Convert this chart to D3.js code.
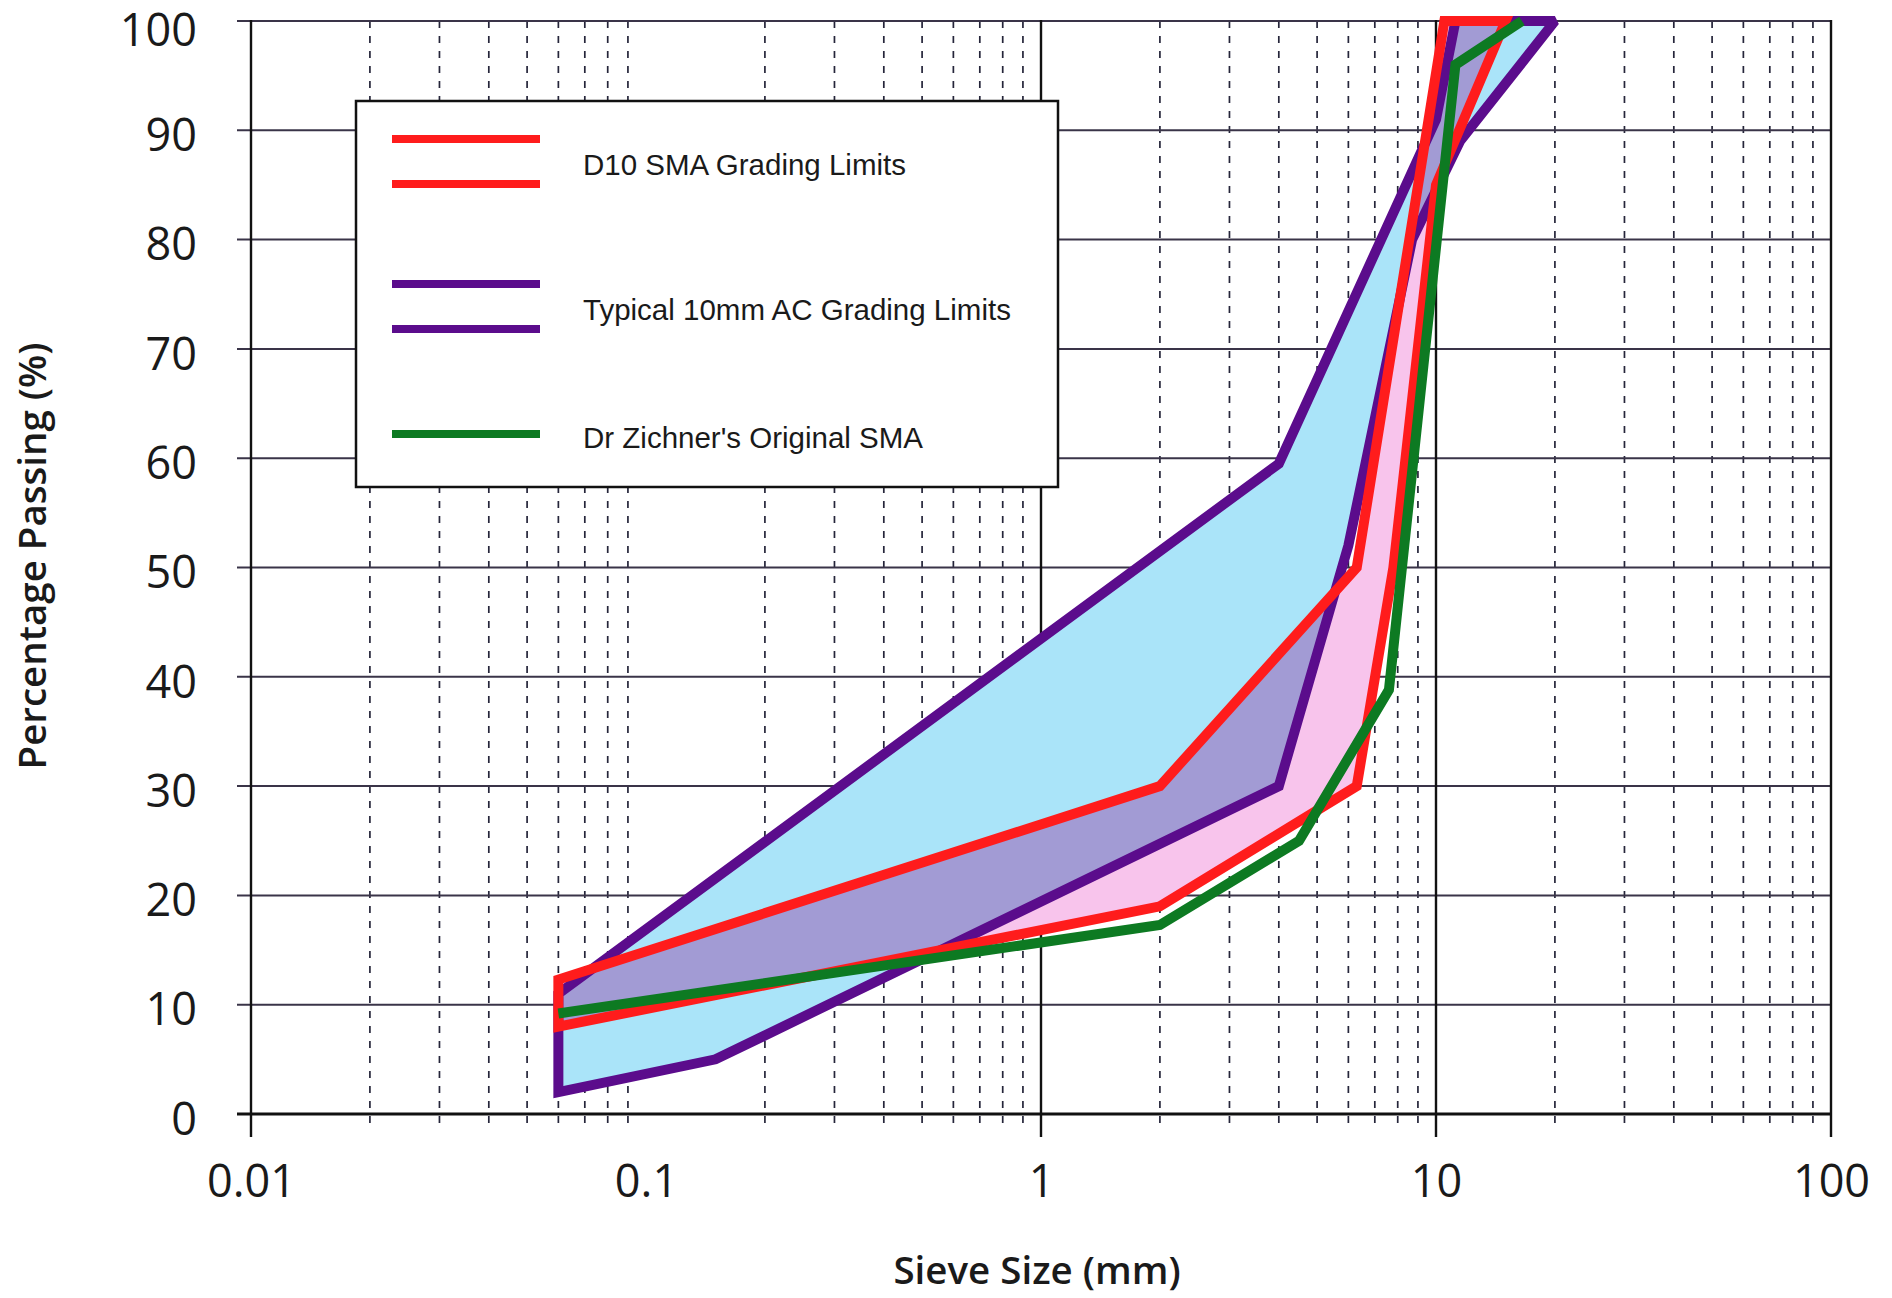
<!DOCTYPE html>
<html>
<head>
<meta charset="utf-8">
<script src="https://cdn.jsdelivr.net/npm/d3@7"></script>
<style>
  html, body { margin: 0; padding: 0; background: #fff; }
  svg { display: block; }
  .tick-label { font-family: 'Open Sans', sans-serif; font-weight: 400; font-size: 45px; fill: #1a1a1a; }
  .axis-title { font-family: 'Open Sans', sans-serif; font-weight: 600; font-size: 38.5px; fill: #1a1a1a; }
  .legend-text { font-family: 'Liberation Sans', Arial, sans-serif; font-size: 29.5px; fill: #1a1a1a; }
</style>
</head>
<body>
<div id="chart"></div>
<script>
// sieve size (mm), percentage passing
const acFine    = [[0.06, 2], [0.15, 5], [4, 30], [6, 52], [8.7, 80], [11.5, 89], [20, 100]];
const acCoarse  = [[0.06, 11], [4, 59.5], [10, 91], [11.2, 100]];
const smaFine   = [[0.06, 8], [2, 19], [6.3, 30], [7.8, 50], [10, 85], [15, 100]];
const smaCoarse = [[0.06, 12.3], [2, 30], [6.3, 50], [10.5, 100]];
const zichner   = [[0.06, 9.2], [2, 17.3], [4.5, 25], [7.6, 38.8], [11.2, 96], [16.5, 100]];

const yTicks = [0, 10, 20, 30, 40, 50, 60, 70, 80, 90, 100];
const xLabels = [0.01, 0.1, 1, 10, 100];
const xMajor = [0.01, 1, 10, 100];
const xMinor = [0.02, 0.03, 0.04, 0.05, 0.06, 0.07, 0.08, 0.09,
                0.2, 0.3, 0.4, 0.5, 0.6, 0.7, 0.8, 0.9,
                2, 3, 4, 5, 6, 7, 8, 9,
                20, 30, 40, 50, 60, 70, 80, 90];

const legendItems = [
  {label: "D10 SMA Grading Limits", color: "#ff1c1c", lines: 2},
  {label: "Typical 10mm AC Grading Limits", color: "#5b0c8c", lines: 2},
  {label: "Dr Zichner's Original SMA", color: "#0d7a22", lines: 1}
];

const W = 1892, H = 1298;
const x = d3.scaleLog().domain([0.01, 100]).range([251, 1831]);
const y = d3.scaleLinear().domain([0, 100]).range([1114, 21]);

const svg = d3.select("#chart").append("svg")
  .attr("width", W).attr("height", H);

const line = d3.line().x(d => x(d[0])).y(d => y(d[1]));

// grid: minor dashed verticals
svg.append("g").selectAll("line")
  .data(xMinor).enter().append("line")
  .attr("x1", d => x(d)).attr("x2", d => x(d))
  .attr("y1", y(100)).attr("y2", 1131)
  .attr("stroke", "#25253a").attr("stroke-width", 1.7)
  .attr("stroke-dasharray", "7,8");

// horizontal grid
svg.append("g").selectAll("line")
  .data(yTicks).enter().append("line")
  .attr("x1", 237).attr("x2", x(100))
  .attr("y1", d => y(d)).attr("y2", d => y(d))
  .attr("stroke", d => d === 0 ? "#111" : "#3a3448")
  .attr("stroke-width", d => d === 0 ? 3.2 : 2);

// major verticals
svg.append("g").selectAll("line")
  .data(xMajor).enter().append("line")
  .attr("x1", d => x(d)).attr("x2", d => x(d))
  .attr("y1", y(100) - 1).attr("y2", 1137)
  .attr("stroke", "#111").attr("stroke-width", 2.4);

// polygons
const acPoly = acFine.concat(acCoarse.slice().reverse());
const smaPoly = smaFine.concat(smaCoarse.slice().reverse());

svg.append("clipPath").attr("id", "acClip")
  .append("path").attr("d", line(acPoly) + "Z");

svg.append("path").attr("d", line(acPoly) + "Z").attr("fill", "#aae4f9");
svg.append("path").attr("d", line(smaPoly) + "Z").attr("fill", "#f8c4ec");
svg.append("path").attr("d", line(smaPoly) + "Z").attr("fill", "#a29bd4")
  .attr("clip-path", "url(#acClip)");

svg.append("path").attr("d", line(acPoly) + "Z")
  .attr("fill", "none").attr("stroke", "#5b0c8c").attr("stroke-width", 10)
  .attr("stroke-linejoin", "miter").attr("stroke-miterlimit", 2);
svg.append("path").attr("d", line(smaPoly) + "Z")
  .attr("fill", "none").attr("stroke", "#ff1c1c").attr("stroke-width", 10)
  .attr("stroke-linejoin", "miter").attr("stroke-miterlimit", 2);
svg.append("path").attr("d", line(zichner))
  .attr("fill", "none").attr("stroke", "#0d7a22").attr("stroke-width", 10)
  .attr("stroke-linejoin", "miter").attr("stroke-miterlimit", 2);

// legend
const lg = svg.append("g");
lg.append("rect").attr("x", 356).attr("y", 101).attr("width", 702).attr("height", 386)
  .attr("fill", "#fff").attr("stroke", "#111").attr("stroke-width", 2.5);
const lineY = [[139, 184], [284, 329], [434]];
const textY = [175, 320, 448];
legendItems.forEach((it, i) => {
  lineY[i].forEach(ly => {
    lg.append("line").attr("x1", 392).attr("x2", 540).attr("y1", ly).attr("y2", ly)
      .attr("stroke", it.color).attr("stroke-width", 8);
  });
  lg.append("text").attr("class", "legend-text").attr("x", 583).attr("y", textY[i]).text(it.label);
});

// axes labels
const yAxis = d3.axisLeft(y).tickValues(yTicks).tickSize(0).tickPadding(0);
svg.append("g").attr("transform", "translate(197,0)").call(yAxis)
  .call(g => g.select(".domain").remove())
  .selectAll("text").attr("class", "tick-label").attr("dy", "0.36em")
  .attr("transform", d => d === 100 ? "translate(0,8)" : "translate(0,4)");

const fmt = d => d < 1 ? String(d) : d3.format("d")(d);
const xAxis = d3.axisBottom(x).tickValues(xLabels).tickFormat(fmt).tickSize(0).tickPadding(0);
svg.append("g").attr("transform", "translate(0,1165)").call(xAxis)
  .call(g => g.select(".domain").remove())
  .selectAll("text").attr("class", "tick-label").attr("dy", "0.72em");

svg.append("text").attr("class", "axis-title")
  .attr("x", 1037).attr("y", 1284).attr("text-anchor", "middle")
  .text("Sieve Size (mm)");
svg.append("text").attr("class", "axis-title")
  .attr("transform", "translate(46,556) rotate(-90)").attr("text-anchor", "middle")
  .text("Percentage Passing (%)");
</script>
</body>
</html>
